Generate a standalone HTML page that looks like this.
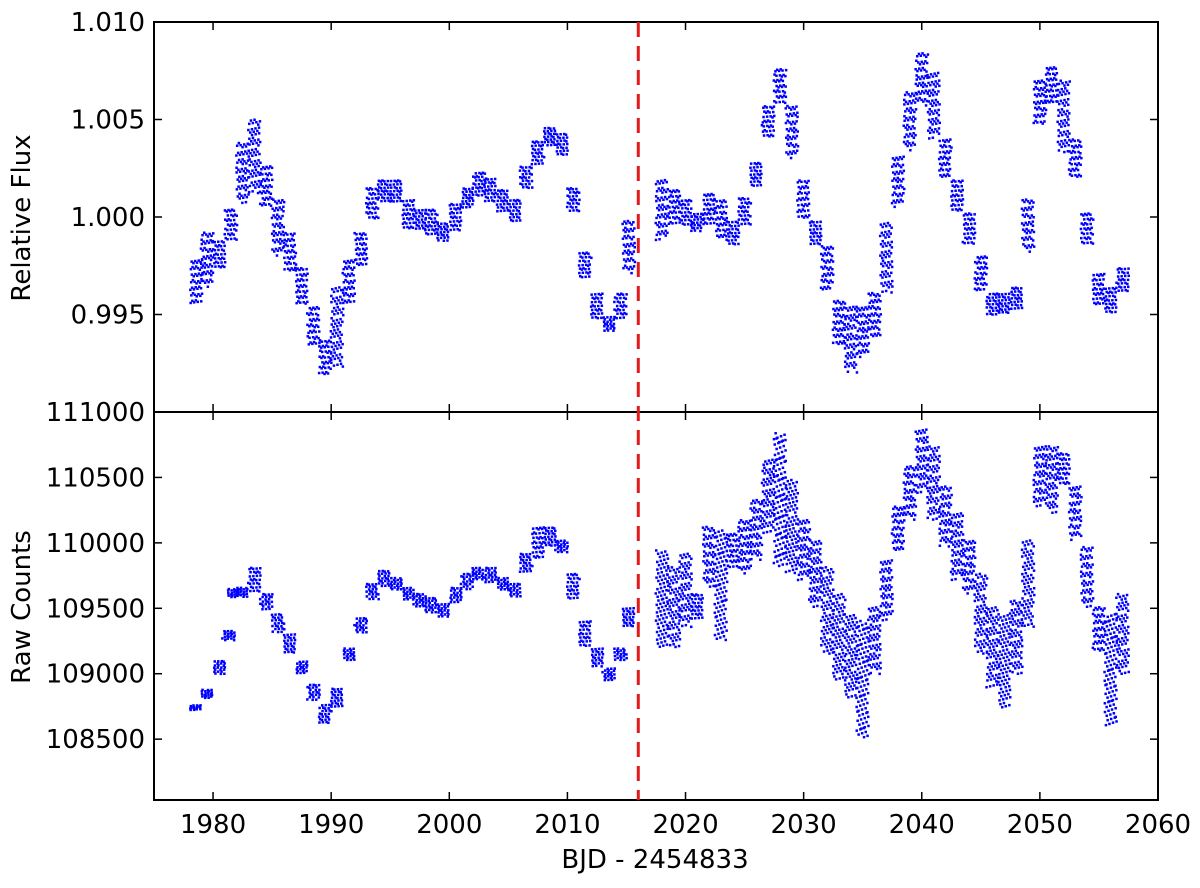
<!DOCTYPE html>
<html><head><meta charset="utf-8"><style>
html,body{margin:0;padding:0;background:#fff;}
svg text{font-family:"DejaVu Sans","Liberation Sans",sans-serif;fill:#000;}
</style></head><body>
<svg id="chart" width="1200" height="883" viewBox="0 0 1200 883" xmlns="http://www.w3.org/2000/svg">
<g id="dots"></g>
<g id="axes"></g>
</svg>
<script>
const X_MIN = 1975, X_MAX = 2060;
const topTimes = [1978.6,1979.5,1980.5,1981.5,1982.5,1983.5,1984.5,1985.5,1986.5,1987.5,1988.5,1989.5,1990.5,1991.5,1992.5,1993.5,1994.5,1995.5,1996.5,1997.5,1998.5,1999.5,2000.5,2001.5,2002.5,2003.5,2004.5,2005.5,2006.5,2007.5,2008.5,2009.5,2010.5,2011.5,2012.5,2013.5,2014.5,2015.2,
2018,2019,2020,2021,2022,2023,2024,2025,2026,2027,2028,2029,2030,2031,2032,2033,2034,2035,2036,2037,2038,2039,2040,2041,2042,2043,2044,2045,2046,2047,2048,2049,2050,2051,2052,2053,2054,2055,2056,2057];
const topLo = [0.9954,0.9964,0.9973,0.9987,1.0007,1.0012,1.0004,0.9980,0.9971,0.9954,0.9933,0.9918,0.9923,0.9954,0.9974,0.9998,1.0007,1.0007,0.9993,0.9993,0.9990,0.9987,0.9992,1.0004,1.0010,1.0007,1.0002,0.9997,1.0014,1.0026,1.0036,1.0031,1.0002,0.9968,0.9947,0.9941,0.9947,0.9971,
0.9988,0.9995,0.9995,0.9992,0.9995,0.9988,0.9985,0.9995,1.0015,1.0040,1.0057,1.0030,0.9998,0.9985,0.9961,0.9933,0.9920,0.9928,0.9937,0.9961,1.0005,1.0034,1.0057,1.0040,1.0019,1.0002,0.9985,0.9961,0.9949,0.9950,0.9952,0.9982,1.0046,1.0057,1.0033,1.0019,0.9985,0.9954,0.9950,0.9961];
const topHi = [0.9978,0.9992,0.9988,1.0004,1.0038,1.0050,1.0026,1.0009,0.9992,0.9974,0.9954,0.9937,0.9964,0.9978,0.9992,1.0015,1.0019,1.0019,1.0009,1.0004,1.0004,0.9997,1.0007,1.0015,1.0023,1.0020,1.0014,1.0009,1.0026,1.0039,1.0046,1.0043,1.0015,0.9982,0.9961,0.9949,0.9961,0.9998,
1.0019,1.0014,1.0009,1.0002,1.0012,1.0009,0.9998,1.0010,1.0028,1.0057,1.0076,1.0057,1.0019,0.9998,0.9985,0.9957,0.9954,0.9954,0.9961,0.9997,1.0031,1.0064,1.0084,1.0074,1.0040,1.0019,1.0002,0.9980,0.9961,0.9961,0.9964,1.0009,1.0070,1.0077,1.0070,1.0040,1.0002,0.9971,0.9964,0.9974];
const botTimes = [1978.6,1979.5,1980.5,1981.3,1981.8,1982.5,1983.5,1984.5,1985.5,1986.5,1987.5,1988.5,1989.5,1990.5,1991.5,1992.5,1993.5,1994.5,1995.5,1996.5,1997.5,1998.5,1999.5,2000.5,2001.5,2002.5,2003.5,2004.5,2005.5,2006.5,2007.5,2008.5,2009.5,2010.5,2011.5,2012.5,2013.5,2014.5,2015.2,
2018,2019,2020,2021,2022,2023,2024,2025,2026,2027,2028,2029,2030,2031,2032,2033,2034,2035,2036,2037,2038,2039,2040,2041,2042,2043,2044,2045,2046,2047,2048,2049,2050,2051,2052,2053,2054,2055,2056,2057];
const botLo = [108720,108810,108990,109250,109580,109582,109613,109482,109306,109150,108997,108790,108613,108736,109097,109306,109559,109660,109636,109559,109506,109459,109428,109536,109636,109713,109690,109636,109582,109767,109867,109967,109921,109559,109197,109044,108943,109097,109352,
109200,109200,109354,109405,109662,109251,109790,109764,109867,110072,109815,109764,109713,109508,109149,108944,108815,108508,108995,109405,109918,110174,110379,110174,109969,109713,109610,109149,108892,108738,108995,109354,110277,110226,110431,110020,109508,109149,108600,108995];
const botHi = [108760,108880,109100,109330,109650,109660,109813,109613,109459,109306,109097,108920,108767,108890,109197,109428,109690,109790,109736,109660,109613,109582,109536,109660,109767,109813,109813,109736,109690,109921,110121,110121,110021,109767,109405,109197,109044,109197,109506,
109944,109815,109918,109610,110123,110097,110072,110174,110328,110636,110841,110482,110174,110020,109815,109610,109456,109405,109508,109867,110277,110585,110867,110738,110431,110226,110020,109764,109508,109456,109559,110020,110738,110738,110687,110431,109969,109508,109456,109610];
const topTicks = [1.010, 1.005, 1.000, 0.995];
const topTickLabels = ["1.010","1.005","1.000","0.995"];
const botTicks = [111000,110500,110000,109500,109000,108500];
const botTickLabels = ["111000","110500","110000","109500","109000","108500"];
const xTicks = [1980,1990,2000,2010,2020,2030,2040,2050,2060];
const xTickLabels = ["1980","1990","2000","2010","2020","2030","2040","2050","2060"];
const splitTime = [2016.0];

const L=154, R=1158, T=22, M=412, B=800;
const xs = t => L + (t - X_MIN) / (X_MAX - X_MIN) * (R - L);
const yTop = v => T + (1.010 - v) / (1.010 - 0.990) * (M - T);
const yBot = v => M + (111000 - v) / (111000 - 108035) * (B - M);
const NS = "http://www.w3.org/2000/svg";
const dots = document.getElementById('dots');
const axes = document.getElementById('axes');
function mk(tag, attrs, parent){const e=document.createElementNS(NS,tag);for(const k in attrs)e.setAttribute(k,attrs[k]);parent.appendChild(e);return e;}

function drawSeries(times, lo, hi, yf, name){
  const g = mk('g',{},dots);
  
  
  for(let i=0;i<times.length;i++){
    const y1=yf(hi[i]), y2=yf(lo[i]);
    const span=Math.abs(y2-y1);
    const n=Math.round(span/1.3)+12;
    const cx=xs(times[i]);
    for(let k=0;k<n;k++){
      const fx=((0.5+k*0.7548776662+i*0.31)%1)-0.5, fy=((0.5+k*0.5698402910)%1);
      const c=mk('rect',{x:(cx+fx*12.5-1.25).toFixed(1),y:(y1+fy*span-1.25).toFixed(1),width:2.5,height:2.5,fill:'#0000ff'},g);
      
      
    }
  }
}
drawSeries(topTimes, topLo, topHi, yTop, 'relative-flux-series');
drawSeries(botTimes, botLo, botHi, yBot, 'raw-counts-series');

const f1=mk('rect',{x:L,y:T,width:R-L,height:M-T,fill:'none',stroke:'#000','stroke-width':2},axes);


const f2=mk('rect',{x:L,y:M,width:R-L,height:B-M,fill:'none',stroke:'#000','stroke-width':2},axes);



const sl=mk('line',{x1:xs(splitTime[0]),x2:xs(splitTime[0]),y1:T,y2:B,stroke:'#e31a1c','stroke-width':3,'stroke-dasharray':'15,9'},axes);



function yTicks(vals, labels, yf, name){
  for(let i=0;i<vals.length;i++){
    const y=yf(vals[i]);
    mk('line',{x1:L,x2:L+8,y1:y,y2:y,stroke:'#000','stroke-width':1.5},axes);
    mk('line',{x1:R,x2:R-8,y1:y,y2:y,stroke:'#000','stroke-width':1.5},axes);
    const t=mk('text',{x:L-9,y:y+9,'text-anchor':'end','font-size':26},axes);
    t.textContent=labels[i];
    
    
  }
}
yTicks(topTicks, topTickLabels, yTop, 'flux-tick-label');
yTicks(botTicks, botTickLabels, yBot, 'counts-tick-label');

for(let i=0;i<xTicks.length;i++){
  const x=xs(xTicks[i]);
  [[T,T+8],[M,M+8],[M,M-8],[B,B-8]].forEach(p=>mk('line',{x1:x,x2:x,y1:p[0],y2:p[1],stroke:'#000','stroke-width':1.5},axes));
  const t=mk('text',{x:x,y:B+33,'text-anchor':'middle','font-size':26},axes);
  t.textContent=xTickLabels[i];
  
  
}
</script>
<svg style="position:absolute;left:0;top:0" width="1200" height="883">
<text transform="translate(30,218) rotate(-90)" text-anchor="middle" font-size="26">Relative Flux</text>
<text transform="translate(30,607) rotate(-90)" text-anchor="middle" font-size="26">Raw Counts</text>
<text x="655" y="868" text-anchor="middle" font-size="26">BJD - 2454833</text>
</svg>
</body></html>
